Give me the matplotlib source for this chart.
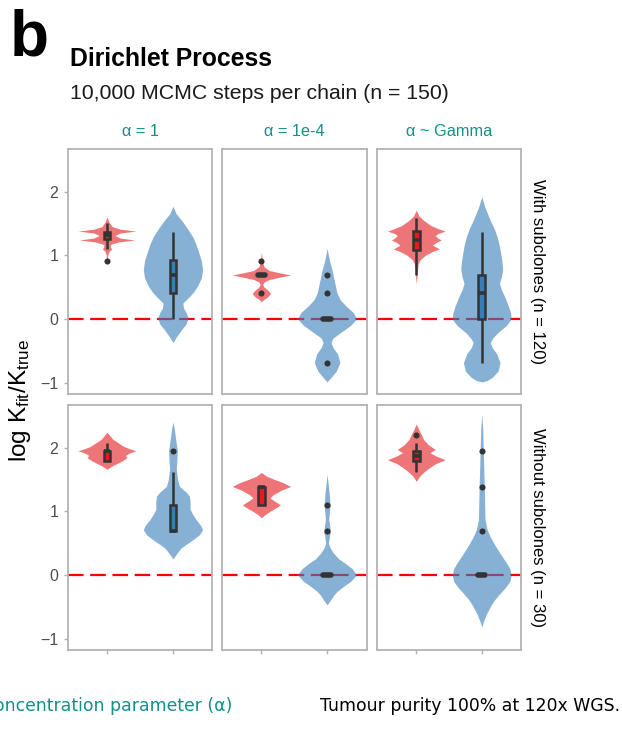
import numpy as np
import matplotlib
matplotlib.use("Agg")
import matplotlib.pyplot as plt
from matplotlib.patches import Rectangle

plt.rcParams['font.family'] = ['Liberation Sans', 'DejaVu Sans']
plt.rcParams['mathtext.fontset'] = 'custom'
plt.rcParams['mathtext.rm'] = 'Liberation Sans'
plt.rcParams['mathtext.it'] = 'Liberation Sans'

#%% data

alpha_labels = ["α = 1", "α = 1e-4", "α ~ Gamma"]
row_labels = ["With subclones (n = 120)", "Without subclones (n = 30)"]
groups = ["red", "blue"]

# violin outlines: y levels and half widths (x units), one per panel / group
# row 0 = with subclones, row 1 = without subclones
viol_y = {
    (0, 0, "red"): [1.60, 1.52, 1.45, 1.41, 1.38, 1.35, 1.31, 1.27, 1.24, 1.21, 1.17, 1.13, 1.10, 1.06, 1.00, 0.92, 0.85],
    (0, 0, "blue"): [1.77, 1.65, 1.55, 1.42, 1.29, 1.17, 1.08, 0.92, 0.77, 0.64, 0.51, 0.42, 0.35, 0.25, 0.17, 0.10, 0.02, -0.08, -0.17, -0.27, -0.37],
    (0, 1, "red"): [1.05, 0.95, 0.88, 0.82, 0.76, 0.72, 0.69, 0.66, 0.62, 0.58, 0.54, 0.50, 0.45, 0.40, 0.35, 0.30, 0.27],
    (0, 1, "blue"): [1.11, 1.00, 0.90, 0.77, 0.60, 0.41, 0.30, 0.20, 0.10, 0.00, -0.10, -0.22, -0.30, -0.37, -0.45, -0.55, -0.69, -0.82, -0.92, -0.99],
    (0, 2, "red"): [1.71, 1.62, 1.55, 1.47, 1.42, 1.38, 1.34, 1.31, 1.27, 1.24, 1.20, 1.16, 1.13, 1.10, 1.06, 1.00, 0.93, 0.87, 0.75, 0.65, 0.56],
    (0, 2, "blue"): [1.92, 1.75, 1.55, 1.42, 1.29, 1.15, 1.03, 0.90, 0.77, 0.66, 0.56, 0.46, 0.35, 0.22, 0.10, 0.00, -0.10, -0.22, -0.30, -0.37, -0.45, -0.55, -0.69, -0.82, -0.92, -0.97, -0.99],
    (1, 0, "red"): [2.24, 2.18, 2.13, 2.08, 2.02, 1.98, 1.95, 1.92, 1.88, 1.84, 1.80, 1.77, 1.72, 1.66],
    (1, 0, "blue"): [2.40, 2.30, 2.18, 1.95, 1.80, 1.66, 1.50, 1.39, 1.30, 1.24, 1.15, 1.03, 0.95, 0.87, 0.78, 0.71, 0.63, 0.55, 0.48, 0.42, 0.34, 0.25],
    (1, 1, "red"): [1.61, 1.55, 1.50, 1.45, 1.39, 1.33, 1.26, 1.21, 1.16, 1.10, 1.04, 1.00, 0.95, 0.90],
    (1, 1, "blue"): [1.58, 1.40, 1.25, 1.10, 0.98, 0.87, 0.78, 0.69, 0.60, 0.50, 0.42, 0.34, 0.25, 0.18, 0.10, 0.00, -0.10, -0.18, -0.26, -0.32, -0.40, -0.47],
    (1, 2, "red"): [2.37, 2.28, 2.20, 2.13, 2.05, 1.97, 1.92, 1.87, 1.81, 1.75, 1.69, 1.62, 1.55, 1.47],
    (1, 2, "blue"): [2.53, 2.30, 2.10, 1.95, 1.70, 1.39, 1.10, 0.87, 0.72, 0.60, 0.47, 0.34, 0.20, 0.10, 0.00, -0.10, -0.20, -0.29, -0.40, -0.50, -0.62, -0.72, -0.82],
}
viol_hw = {
    (0, 0, "red"): [0, 0.03, 0.08, 0.20, 0.44, 0.20, 0.12, 0.20, 0.42, 0.18, 0.05, 0.05, 0.07, 0.03, 0.01, 0.01, 0],
    (0, 0, "blue"): [0, 0.05, 0.13, 0.22, 0.30, 0.35, 0.38, 0.43, 0.45, 0.43, 0.37, 0.31, 0.25, 0.15, 0.16, 0.20, 0.23, 0.20, 0.13, 0.06, 0],
    (0, 1, "red"): [0, 0.01, 0.02, 0.04, 0.12, 0.30, 0.445, 0.30, 0.12, 0.04, 0.02, 0.04, 0.10, 0.14, 0.10, 0.03, 0],
    (0, 1, "blue"): [0, 0.02, 0.04, 0.076, 0.11, 0.15, 0.20, 0.29, 0.40, 0.45, 0.36, 0.20, 0.09, 0.06, 0.09, 0.16, 0.195, 0.14, 0.06, 0],
    (0, 2, "red"): [0, 0.04, 0.11, 0.22, 0.33, 0.44, 0.33, 0.29, 0.33, 0.38, 0.30, 0.25, 0.30, 0.35, 0.25, 0.14, 0.06, 0.03, 0.015, 0.01, 0],
    (0, 2, "blue"): [0, 0.05, 0.13, 0.19, 0.235, 0.27, 0.29, 0.31, 0.32, 0.30, 0.27, 0.30, 0.35, 0.40, 0.44, 0.45, 0.38, 0.24, 0.17, 0.13, 0.16, 0.23, 0.28, 0.25, 0.16, 0.08, 0],
    (1, 0, "red"): [0, 0.05, 0.09, 0.165, 0.25, 0.35, 0.44, 0.35, 0.28, 0.30, 0.24, 0.19, 0.09, 0],
    (1, 0, "blue"): [0, 0.02, 0.035, 0.066, 0.06, 0.05, 0.07, 0.10, 0.20, 0.25, 0.26, 0.26, 0.30, 0.35, 0.42, 0.45, 0.40, 0.30, 0.20, 0.12, 0.06, 0],
    (1, 1, "red"): [0, 0.08, 0.20, 0.33, 0.445, 0.30, 0.18, 0.13, 0.20, 0.29, 0.20, 0.13, 0.06, 0],
    (1, 1, "blue"): [0, 0.02, 0.035, 0.045, 0.035, 0.025, 0.04, 0.05, 0.035, 0.02, 0.05, 0.10, 0.18, 0.28, 0.38, 0.45, 0.36, 0.25, 0.15, 0.10, 0.05, 0],
    (1, 2, "red"): [0, 0.04, 0.08, 0.11, 0.18, 0.29, 0.21, 0.30, 0.44, 0.30, 0.21, 0.12, 0.05, 0],
    (1, 2, "blue"): [0, 0.015, 0.02, 0.025, 0.03, 0.04, 0.045, 0.05, 0.08, 0.13, 0.20, 0.28, 0.37, 0.43, 0.45, 0.43, 0.36, 0.28, 0.19, 0.13, 0.07, 0.03, 0],
}

# box stats: lower whisker, q1, median, q3, upper whisker
box_stats = {
    (0, 0, "red"): [1.10, 1.25, 1.32, 1.37, 1.50],
    (0, 0, "blue"): [0.00, 0.41, 0.69, 0.92, 1.37],
    (0, 1, "red"): [0.693, 0.693, 0.693, 0.693, 0.693],
    (0, 1, "blue"): [0.0, 0.0, 0.0, 0.0, 0.0],
    (0, 2, "red"): [0.69, 1.08, 1.24, 1.38, 1.59],
    (0, 2, "blue"): [-0.69, 0.0, 0.41, 0.69, 1.37],
    (1, 0, "red"): [1.79, 1.79, 1.95, 1.95, 2.08],
    (1, 0, "blue"): [0.693, 0.693, 0.693, 1.10, 1.61],
    (1, 1, "red"): [1.10, 1.10, 1.386, 1.386, 1.386],
    (1, 1, "blue"): [0.0, 0.0, 0.0, 0.0, 0.0],
    (1, 2, "red"): [1.61, 1.79, 1.87, 1.95, 2.08],
    (1, 2, "blue"): [0.0, 0.0, 0.0, 0.0, 0.0],
}
outliers = {
    (0, 0, "red"): [0.916],
    (0, 1, "red"): [0.916, 0.405],
    (0, 1, "blue"): [0.693, 0.405, -0.693],
    (1, 0, "blue"): [1.946],
    (1, 1, "blue"): [1.099, 0.693],
    (1, 2, "red"): [2.197],
    (1, 2, "blue"): [1.946, 1.386, 0.693],
}

colors = {"red": "#E41A1C", "blue": "#377EB8"}
positions = {"red": 1, "blue": 2}
teal = "#11908B"
dark = "#333333"

#%% figure

W, H = 622, 747
fig = plt.figure(figsize=(W / 100, H / 100), dpi=100)

col_x = [(67.5, 212.5), (222, 366.5), (377, 521)]
row_y = [(149, 394), (405, 650)]


def px_axes(x0, y0, x1, y1):
    return fig.add_axes([x0 / W, 1 - y1 / H, (x1 - x0) / W, (y1 - y0) / H])


for r in range(2):
    for c in range(3):
        ax = px_axes(col_x[c][0], row_y[r][0], col_x[c][1], row_y[r][1])
        ax.set_xlim(0.4, 2.6)
        ax.set_ylim(-1.18, 2.67)
        ax.axhline(0, color="#FF0000", lw=1.6, dashes=(7, 3), zorder=1)

        for g in groups:
            key = (r, c, g)
            pos = positions[g]
            y = np.array(viol_y[key])
            hw = np.array(viol_hw[key])
            ax.fill_betweenx(y, pos - hw, pos + hw, color=colors[g], alpha=0.6, lw=0, zorder=2)

            lo, q1, med, q3, hi = box_stats[key]
            bw = 0.1
            ax.plot([pos, pos], [lo, q1], color=dark, lw=1.8, zorder=3, solid_capstyle="butt")
            ax.plot([pos, pos], [q3, hi], color=dark, lw=1.8, zorder=3, solid_capstyle="butt")
            if q3 - q1 > 0.001:
                ax.add_patch(Rectangle((pos - bw / 2, q1), bw, q3 - q1, facecolor=colors[g],
                                       edgecolor=dark, lw=1.8, zorder=3))
                ax.plot([pos - bw / 2, pos + bw / 2], [med, med], color=dark, lw=2.6, zorder=3,
                        solid_capstyle="butt")
            else:
                # collapsed box: a short thick bar
                ax.plot([pos - 0.055, pos + 0.055], [med, med], color=dark, lw=4,
                        zorder=3, solid_capstyle="round")
            if key in outliers:
                ax.plot([pos] * len(outliers[key]), outliers[key], "o", color=dark, ms=4.4,
                        mec="none", zorder=4)

        for s in ax.spines.values():
            s.set_color("#B3B3B3")
            s.set_linewidth(1.3)
        ax.set_yticks([-1, 0, 1, 2])
        ax.set_xticks([1, 2])
        ax.tick_params(colors="#B3B3B3", length=3, width=1, labelcolor="#4D4D4D", labelsize=11.5)
        ax.set_xticklabels([])
        if c != 0:
            ax.tick_params(axis="y", length=0, labelleft=False)
        else:
            ax.set_yticklabels(["\u22121", "0", "1", "2"])
        if r == 0:
            ax.tick_params(axis="x", length=0)

        if r == 0:
            ax.text(0.5, 1.0 + 18 / 245, alpha_labels[c], transform=ax.transAxes,
                    ha="center", va="center", color=teal, fontsize=11.8)
        if c == 2:
            ax.text(1.0 + 17 / 144, 0.5, row_labels[r], transform=ax.transAxes, rotation=-90,
                    ha="center", va="center", fontsize=12, color="black")

fig.text(10 / W, 1 - 56 / H, "b", fontsize=46, fontweight="bold", ha="left", va="baseline")
fig.text(70 / W, 1 - 66 / H, "Dirichlet Process", fontsize=17.8, fontweight="bold",
         ha="left", va="baseline")
fig.text(70 / W, 1 - 99 / H, "10,000 MCMC steps per chain (n = 150)", fontsize=15.3,
         ha="left", va="baseline", color="#1A1A1A")
fig.text(20 / W, 1 - 400 / H, r"log K$_{\mathrm{fit}}$/K$_{\mathrm{true}}$", fontsize=17.5,
         rotation=90, ha="center", va="center")

fig.text(232 / W, 1 - 706 / H, "Concentration parameter (α)", family="DejaVu Sans",
         fontsize=12.4, color=teal, ha="right", va="center")
fig.text(620 / W, 1 - 706 / H, "Tumour purity 100% at 120x WGS.", family="DejaVu Sans",
         fontsize=12.4, color="black", ha="right", va="center")

fig.savefig("out.png", dpi=100)
